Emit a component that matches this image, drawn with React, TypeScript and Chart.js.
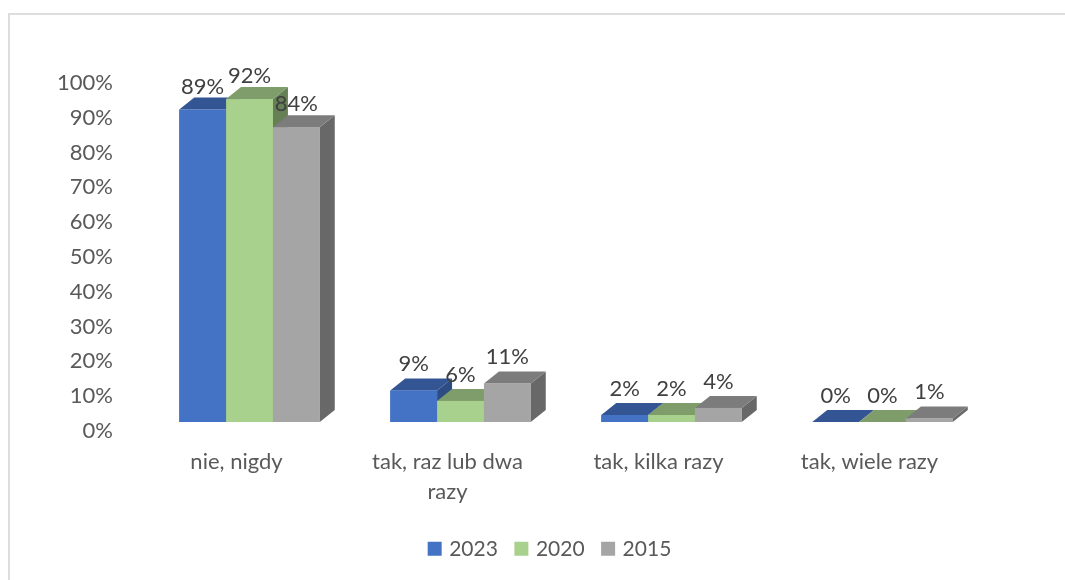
import React, { useEffect, useRef } from "react";
import { Chart, registerables } from "chart.js";

Chart.register(...registerables);

const categories: (string | string[])[] = ["nie, nigdy", ["tak, raz lub dwa", "razy"], "tak, kilka razy", "tak, wiele razy"];
const values2023 = [89, 9, 2, 0];
const values2020 = [92, 6, 2, 0];
const values2015 = [84, 11, 4, 1];
const yTicks = [0, 10, 20, 30, 40, 50, 60, 70, 80, 90, 100];

const FONT = "Lato";
const depthX = 15;
const depthY = 12;
const faces = [
  { front: "#4472C4", top: "#335593", side: "#2D4C83" },
  { front: "#A9D18E", top: "#7F9D6A", side: "#667F55" },
  { front: "#A5A5A5", top: "#7C7C7C", side: "#686868" },
];

const bars3d = {
  id: "bars3d",
  afterLayout(chart: any) {
    const lg = chart.legend;
    if (!lg) return;
    const w = lg.right - lg.left;
    const centre = 551;
    lg.left = centre - w / 2;
    lg.right = centre + w / 2;
    const h = lg.bottom - lg.top;
    lg.top = 544 - h / 2;
    lg.bottom = 544 + h / 2;
  },
  afterDatasetsDraw(chart: any) {
    const { ctx } = chart;
    const n = chart.data.labels.length;
    ctx.save();
    for (let i = 0; i < n; i++) {
      chart.data.datasets.forEach((ds: any, d: number) => {
        const el = chart.getDatasetMeta(d).data[i];
        const half = el.width / 2;
        const l = el.x - half;
        const r = el.x + half;
        const t = el.y;
        const b = el.base;
        const c = faces[d];
        ctx.fillStyle = c.side;
        ctx.beginPath();
        ctx.moveTo(r, t);
        ctx.lineTo(r + depthX, t - depthY);
        ctx.lineTo(r + depthX, b - depthY);
        ctx.lineTo(r, b);
        ctx.closePath();
        ctx.fill();
        ctx.fillStyle = c.top;
        ctx.beginPath();
        ctx.moveTo(l, t);
        ctx.lineTo(l + depthX, t - depthY);
        ctx.lineTo(r + depthX, t - depthY);
        ctx.lineTo(r, t);
        ctx.closePath();
        ctx.fill();
        ctx.fillStyle = c.front;
        ctx.fillRect(l, t, r - l, b - t);
      });
    }
    ctx.fillStyle = "#404040";
    ctx.font = `22px ${FONT}`;
    ctx.textAlign = "center";
    ctx.textBaseline = "middle";
    chart.data.datasets.forEach((ds: any, d: number) => {
      chart.getDatasetMeta(d).data.forEach((el: any, i: number) => {
        const lift = 26.5 - ds.data[i] * 0.04;
        ctx.fillText(`${ds.data[i]}%`, el.x, el.y - lift);
      });
    });
    ctx.restore();
  },
};

export default function App() {
  const ref = useRef<HTMLCanvasElement>(null);
  useEffect(() => {
    document.body.style.margin = "0";
    const barStyle = { categoryPercentage: 0.666, barPercentage: 1, borderWidth: 6 };
    const chart = new Chart(ref.current!, {
      type: "bar",
      plugins: [bars3d],
      data: {
        labels: categories as any,
        datasets: [
          { label: "2023", data: values2023, backgroundColor: faces[0].front, borderColor: faces[0].front, ...barStyle },
          { label: "2020", data: values2020, backgroundColor: faces[1].front, borderColor: faces[1].front, ...barStyle },
          { label: "2015", data: values2015, backgroundColor: faces[2].front, borderColor: faces[2].front, ...barStyle },
        ],
      },
      options: {
        animation: false,
        responsive: false,
        layout: { padding: { top: 71, right: 77, left: 0, bottom: 0 } },
        plugins: {
          tooltip: { enabled: false },
          legend: {
            position: "bottom",
            labels: { boxWidth: 8, boxHeight: 8, padding: 19.5, color: "#595959", font: { family: FONT, size: 21 } },
          },
        },
        scales: {
          x: {
            grid: { display: false, drawTicks: false },
            border: { display: false },
            afterFit: (s: any) => {
              s.height = 149 - (s.chart.legend?.height ?? 0);
            },
            ticks: {
              autoSkip: false,
              maxRotation: 0,
              minRotation: 0,
              padding: 16,
              labelOffset: -13,
              color: "#595959",
              font: { family: FONT, size: 22, lineHeight: 1.36 },
            },
          },
          y: { display: false, min: -2.564, max: 100 },
          y2: {
            position: "left",
            min: 0,
            max: 103.45,
            grid: { display: false, drawTicks: false },
            border: { display: false },
            afterBuildTicks: (s: any) => {
              s.ticks = yTicks.map((value) => ({ value }));
            },
            afterFit: (s: any) => {
              s.width = 144;
            },
            ticks: {
              padding: 31,
              color: "#595959",
              font: { family: FONT, size: 22 },
              callback: (v: any) => `${v}%`,
            },
          },
        },
      } as any,
    });
    return () => chart.destroy();
  }, []);
  return (
    <div style={{ position: "fixed", left: 0, top: 0, width: 1065, height: 580, overflow: "hidden", background: "#fff" }}>
      <div style={{ position: "absolute", left: 8, top: 13, width: 1100, height: 600, borderLeft: "2px solid #DDDDDD", borderTop: "2px solid #DDDDDD" }} />
      <canvas ref={ref} width={1065} height={580} style={{ position: "absolute", left: 0, top: 0 }} />
    </div>
  );
}
